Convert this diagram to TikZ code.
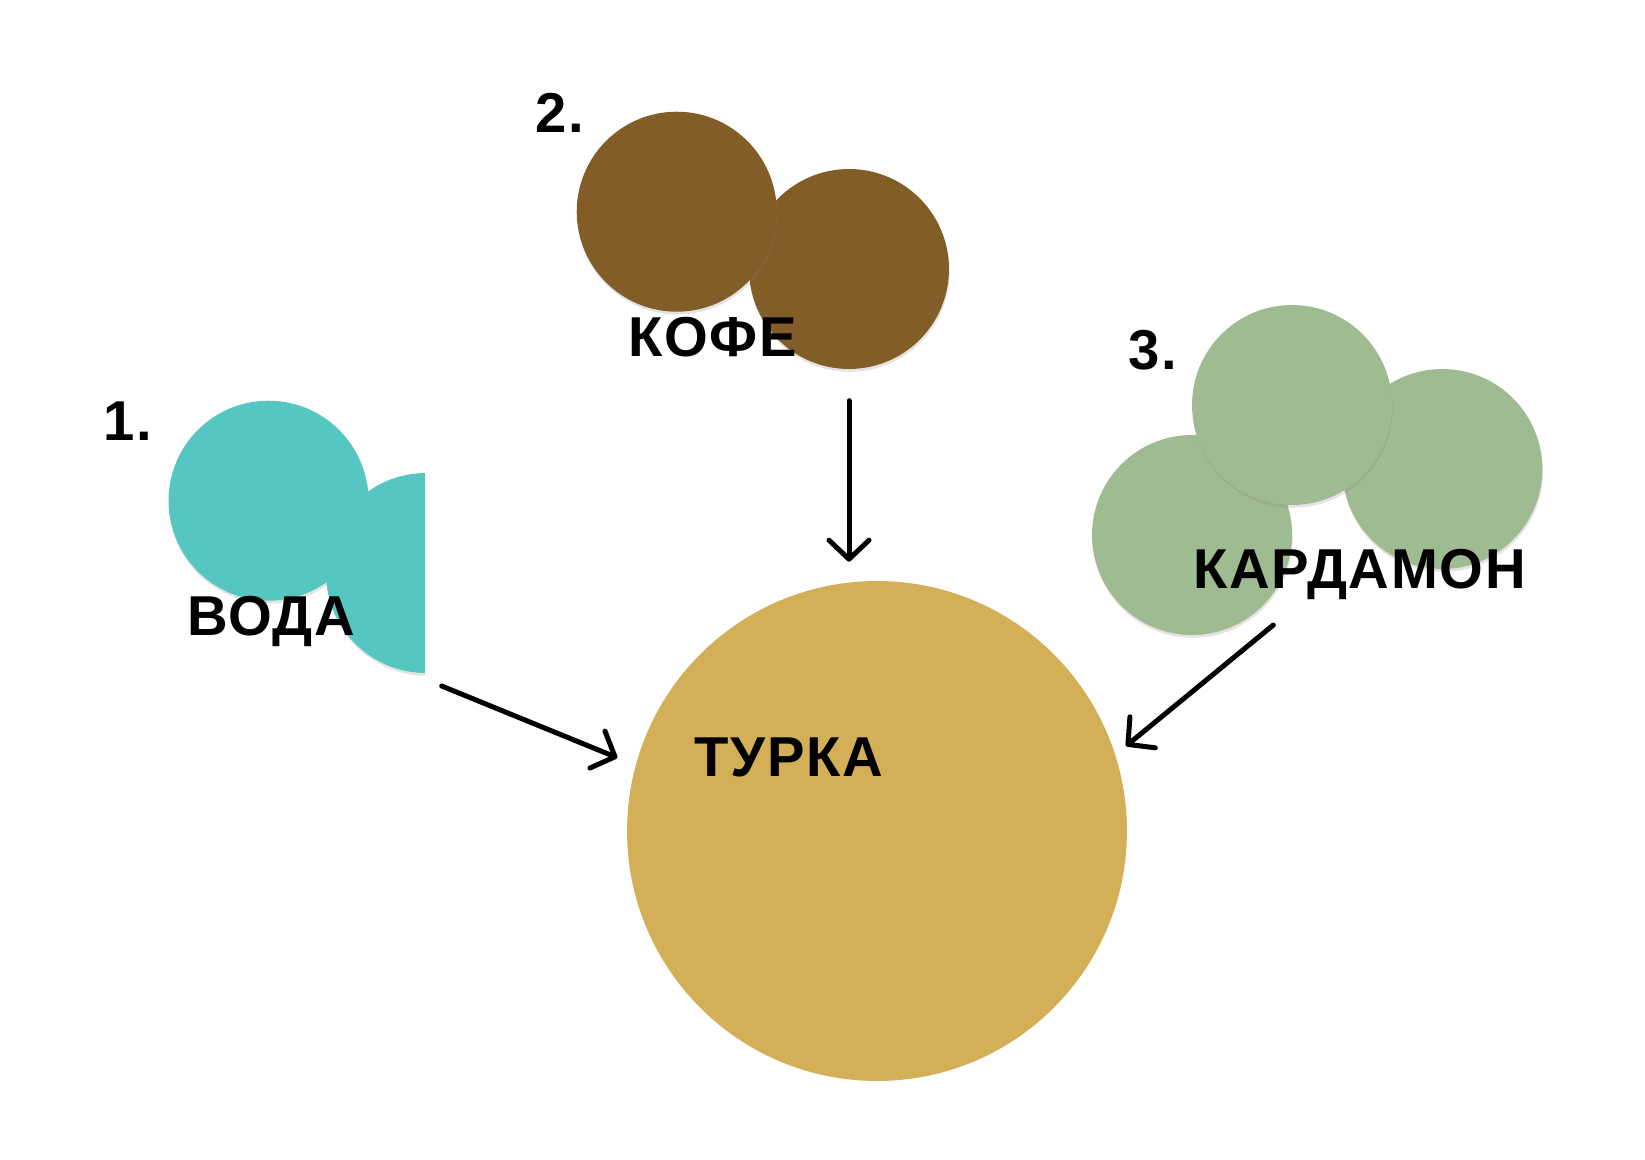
\documentclass[tikz,border=0pt]{standalone}
\usepackage{fontspec}
\setmainfont{Liberation Sans}
\usetikzlibrary{arrows.meta,shadows}
\definecolor{cWater}{RGB}{86,199,192}
\definecolor{cCoffee}{RGB}{131,93,40}
\definecolor{cCard}{RGB}{159,187,146}
\definecolor{cTurka}{RGB}{211,175,87}
\begin{document}
\begin{tikzpicture}[x=0.02cm,y=-0.02cm,
  blob/.style={circle, minimum size=4cm, inner sep=0,
    drop shadow={shadow xshift=0.4pt, shadow yshift=-1.6pt, opacity=0.22}},
  lbl/.style={font=\fontsize{32}{38}\selectfont\bfseries\addfontfeature{LetterSpace=3}, inner sep=0, anchor=base west},
  conn/.style={line width=0.1cm, line cap=round,
    -{Straight Barb[length=0.38cm,width=0.8cm,line cap=round,line join=round]}}]
\useasboundingbox[fill=white] (0,0) rectangle (1645,1159);

% 1. water
\node[blob, fill=cWater] (water1) at (268.5,500.7) {};
\begin{scope}
  \clip (0,0) rectangle (425,1159);
  \node[blob, fill=cWater] (water2) at (426,573) {};
\end{scope}
\node[lbl] (n1) at (103,440) {1.};
\node[lbl] (water) at (187,635) {ВОДА};

% 2. coffee
\node[blob, fill=cCoffee] (coffee2) at (849,269) {};
\node[blob, fill=cCoffee] (coffee1) at (676.7,211.7) {};
\node[lbl] (n2) at (535,132.3) {2.};
\node[lbl] (coffee) at (628,356) {КОФЕ};

% 3. cardamom
\node[blob, fill=cCard] (card1) at (1192,535) {};
\node[blob, fill=cCard] (card3) at (1442.3,469) {};
\node[blob, fill=cCard] (card2) at (1292,405) {};
\node[lbl] (n3) at (1128,369) {3.};
\node[lbl] (card) at (1193,588.3) {КАРДАМОН};

% turka
\node[circle, minimum size=10cm, inner sep=0, fill=cTurka] (turka) at (877,831) {};
\node[lbl] (turkalbl) at (694,776.7) {ТУРКА};

% connectors
\coordinate (wS) at (441.7,686);
\coordinate (wE) at (617.3,757.7);
\coordinate (cS) at (849,400.7);
\coordinate (cE) at (849,561.7);
\coordinate (kS) at (1273.3,625);
\coordinate (kE) at (1126,746);
\draw[conn] (wS) -- (wE);
\draw[conn] (cS) -- (cE);
\draw[conn] (kS) -- (kE);
\end{tikzpicture}
\end{document}
